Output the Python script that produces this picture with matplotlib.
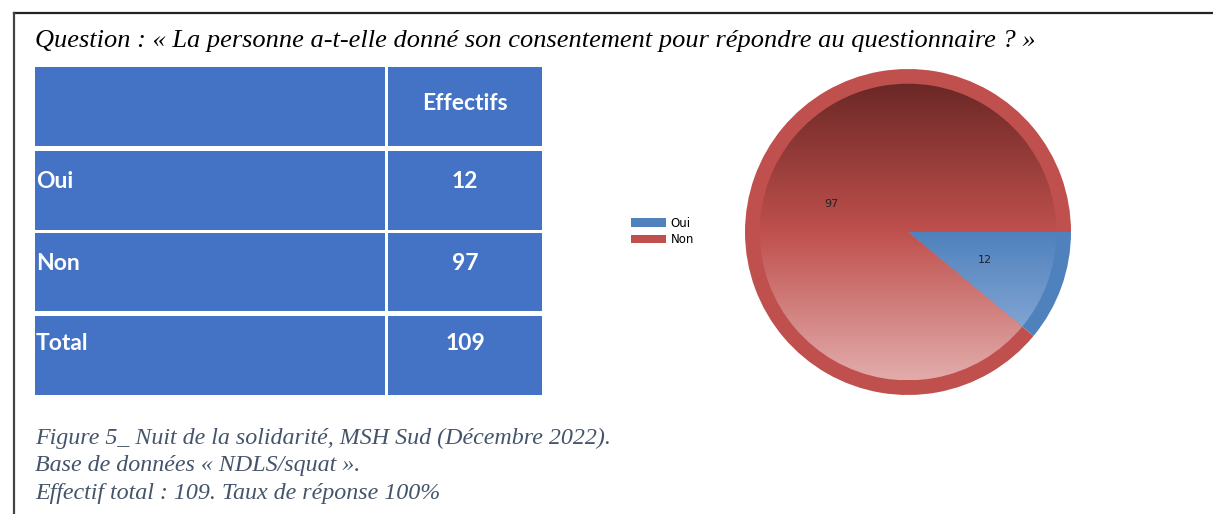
import numpy as np
import matplotlib
matplotlib.use("Agg")
import matplotlib.pyplot as plt
from matplotlib.patches import Rectangle
from matplotlib.colors import LinearSegmentedColormap

categories = ["Oui", "Non"]
effectifs = [12, 97]
header = "Effectifs"
question = "Question : « La personne a-t-elle donné son consentement pour répondre au questionnaire ? »"
caption = ["Figure 5_ Nuit de la solidarité, MSH Sud (Décembre 2022).",
           "Base de données « NDLS/squat ».",
           "Effectif total : 109. Taux de réponse 100%"]

total = sum(effectifs)
rows = categories + ["Total"]
row_vals = effectifs + [total]

W, H = 1213, 514
fig = plt.figure(figsize=(W / 100, H / 100), dpi=100)

# full-figure axes in pixel units
bg = fig.add_axes([0, 0, 1, 1])
bg.set_xlim(0, W)
bg.set_ylim(H, 0)
bg.axis("off")

# frame
bg.plot([14, W], [13, 13], color="#222222", lw=1.6)
bg.plot([14, 14], [13, H], color="#444444", lw=1.6)

serif = ["Liberation Serif", "DejaVu Serif"]
bg.text(35, 41, question, fontsize=19, style="italic", family=serif,
        va="center", ha="left", color="black")
for i, line in enumerate(caption):
    bg.text(35, 438 + i * 27.5, line, fontsize=17.3, style="italic", family=serif,
            va="center", ha="left", color="#44546A")

# table
blue = "#4472C4"
col_x = [(35, 385), (388, 542)]
row_y = [(67, 146), (151, 230), (233, 311), (316, 395)]
tfont = dict(family=["Lato", "DejaVu Sans"], fontweight="bold", color="white", fontsize=16.5)
for r, (y0, y1) in enumerate(row_y):
    for (x0, x1) in col_x:
        bg.add_patch(Rectangle((x0, y0), x1 - x0, y1 - y0, facecolor=blue,
                               edgecolor="none"))
bg.text(465, 103, header, ha="center", va="center", **tfont)
for r, (name, v) in enumerate(zip(rows, row_vals)):
    y0 = row_y[r + 1][0]
    ty = y0 + 30 if r < 2 else y0 + 27
    bg.text(36, ty, name, ha="left", va="center", **tfont)
    bg.text(465, ty, str(v), ha="center", va="center", **tfont)

# pie
cx, cy, rad = 908, 232, 163
pax = fig.add_axes([(cx - rad) / W, (H - cy - rad) / H, 2 * rad / W, 2 * rad / H])
pax.set_xlim(-1, 1)
pax.set_ylim(-1, 1)
pax.axis("off")

rim_cols = ["#4F81BD", "#C0504D"]
grad_cols = [["#2f5a93", "#4f81bd", "#9cb7de"],
             ["#6b2826", "#bf504d", "#e2acab"]]

wedges, _ = pax.pie(effectifs, colors=rim_cols, startangle=0, counterclock=False,
                    radius=1.0, wedgeprops=dict(linewidth=0))
inner, _, autotexts = pax.pie(effectifs, colors=["none", "none"], startangle=0,
                              counterclock=False, radius=0.91,
                              wedgeprops=dict(linewidth=0),
                              autopct=lambda p: f"{round(p * total / 100)}",
                              pctdistance=0.55,
                              textprops=dict(fontsize=8, color="#222222"))
pax.set_xlim(-1, 1)
pax.set_ylim(-1, 1)
grad = np.linspace(0, 1, 256).reshape(-1, 1)
for w, gc in zip(inner, grad_cols):
    cmap = LinearSegmentedColormap.from_list("g", gc[::-1])
    im = pax.imshow(grad, extent=[-0.91, 0.91, -0.91, 0.91], aspect="auto",
                    cmap=cmap, origin="lower", zorder=1.5)
    im.set_clip_path(w)
for t in autotexts:
    t.set_zorder(3)

# legend
fig.legend(wedges, categories, loc="upper left",
           bbox_to_anchor=(620 / W, 1 - 206 / H), frameon=False,
           fontsize=8.5, handlelength=3.0, handleheight=0.7, labelspacing=0.3,
           handletextpad=0.4)

fig.savefig("out.png", dpi=100)
